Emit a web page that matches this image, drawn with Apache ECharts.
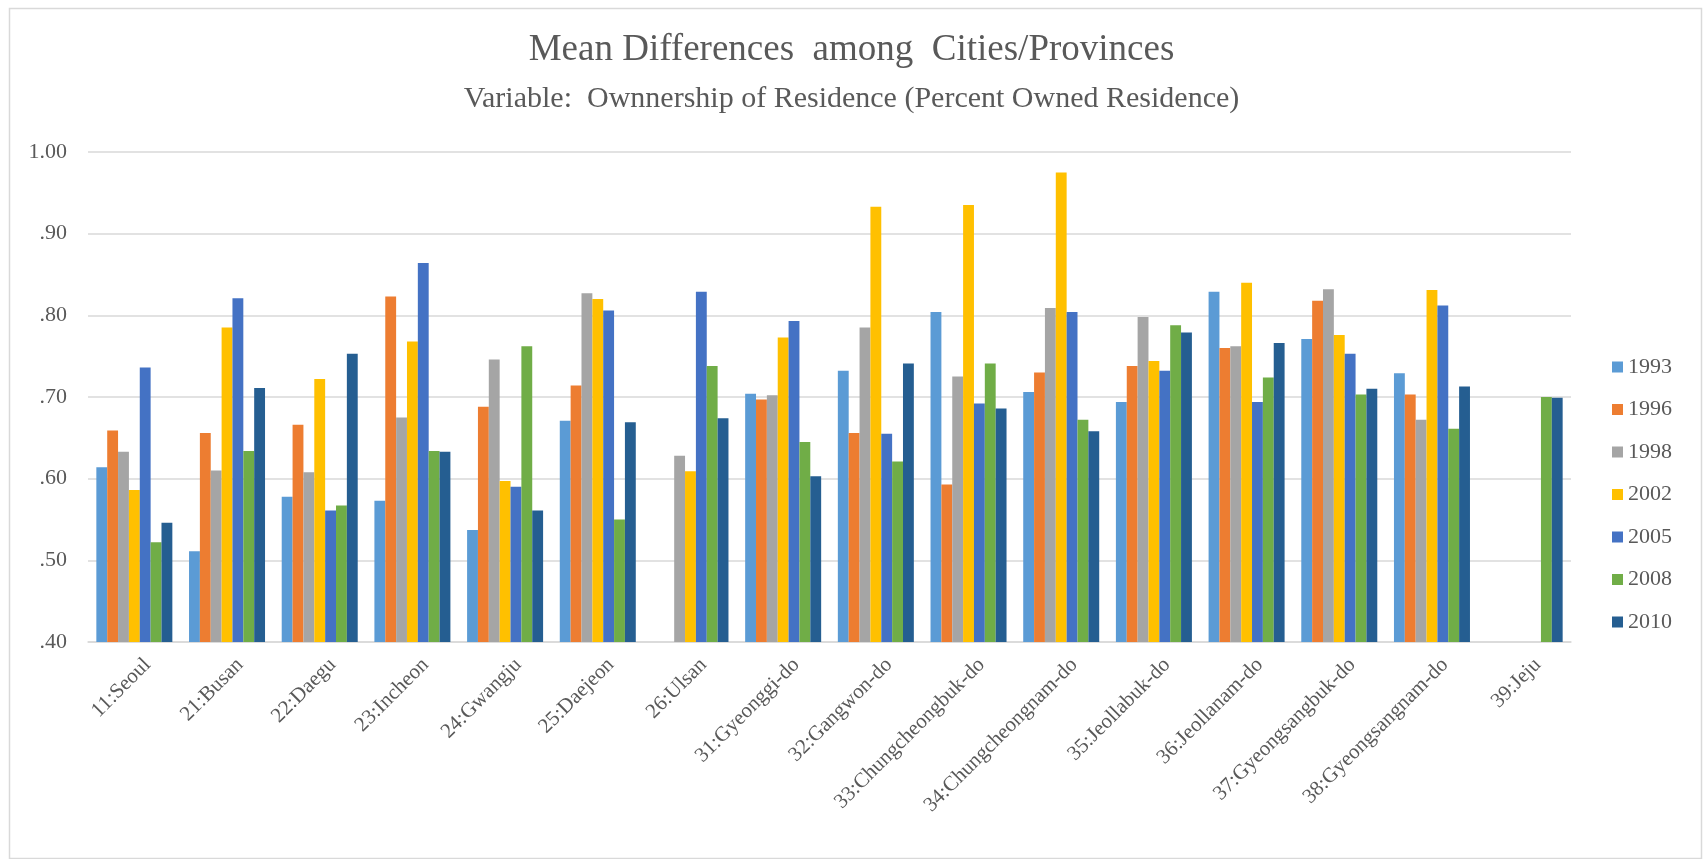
<!DOCTYPE html>
<html>
<head>
<meta charset="utf-8">
<script src="https://cdn.jsdelivr.net/npm/echarts@6/dist/echarts.min.js"></script>
<style>
html,body{margin:0;padding:0;background:#fff;}
#chart{width:1703px;height:859px;}
</style>
</head>
<body>
<div id="chart"></div>
<script>
const titleText = 'Mean Differences  among  Cities/Provinces';
const subtitleText = 'Variable:  Ownnership of Residence (Percent Owned Residence)';
const categories = ['11:Seoul','21:Busan','22:Daegu','23:Incheon','24:Gwangju','25:Daejeon','26:Ulsan','31:Gyeonggi-do','32:Gangwon-do','33:Chungcheongbuk-do','34:Chungcheongnam-do','35:Jeollabuk-do','36:Jeollanam-do','37:Gyeongsangbuk-do','38:Gyeongsangnam-do','39:Jeju'];
const seriesNames = ['1993','1996','1998','2002','2005','2008','2010'];
const yTickLabels = ['.40','.50','.60','.70','.80','.90','1.00'];

const v1993 = [0.614,0.511,0.578,0.573,0.537,0.671,null,0.704,0.732,0.804,0.706,0.694,0.829,0.771,0.729,null];
const v1996 = [0.659,0.656,0.666,0.823,0.688,0.714,null,0.697,0.656,0.593,0.730,0.738,0.760,0.818,0.703,null];
const v1998 = [0.633,0.610,0.608,0.675,0.746,0.827,0.628,0.702,0.785,0.725,0.809,0.798,0.762,0.832,0.672,null];
const v2002 = [0.586,0.785,0.722,0.768,0.597,0.820,0.609,0.773,0.933,0.935,0.975,0.744,0.840,0.776,0.831,null];
const v2005 = [0.736,0.821,0.561,0.864,0.590,0.806,0.829,0.793,0.655,0.692,0.804,0.732,0.694,0.753,0.812,null];
const v2008 = [0.522,0.634,0.567,0.634,0.762,0.550,0.738,0.645,0.621,0.741,0.672,0.788,0.724,0.703,0.661,0.700];
const v2010 = [0.546,0.711,0.753,0.633,0.561,0.669,0.674,0.603,0.741,0.686,0.658,0.779,0.766,0.710,0.713,0.699];

const seriesValues = [v1993,v1996,v1998,v2002,v2005,v2008,v2010];
const colors = ['#5B9BD5','#ED7D31','#A5A5A5','#FFC000','#4472C4','#70AD47','#255E91'];

const FONT = '"Liberation Serif","Times New Roman",serif';
const chart = echarts.init(document.getElementById('chart'));
chart.setOption({
  animation: false,
  backgroundColor: '#ffffff',
  color: colors,
  graphic: [{
    type: 'rect', left: 7, top: 6, z: -1,
    shape: {width: 1692, height: 850},
    style: {fill: 'none', stroke: '#d9d9d9', lineWidth: 1.5}
  }],
  title: [
    {text: titleText, left: 'center', top: 27,
     textStyle: {fontFamily: FONT, fontSize: 37, fontWeight: 'normal', color: '#595959'}},
    {text: subtitleText, left: 'center', top: 79,
     textStyle: {fontFamily: FONT, fontSize: 30, fontWeight: 'normal', color: '#595959'}}
  ],
  legend: {
    orient: 'vertical', left: 1612, top: 356, padding: 0,
    itemWidth: 11, itemHeight: 11, itemGap: 20.5,
    icon: 'rect',
    textStyle: {fontFamily: FONT, fontSize: 22, color: '#595959', lineHeight: 22},
    data: seriesNames
  },
  grid: {left: 88, right: 132, top: 152, bottom: 217, containLabel: false},
  xAxis: {
    type: 'category', data: categories,
    axisLine: {lineStyle: {color: '#d9d9d9', width: 1.5}},
    axisTick: {show: false},
    axisLabel: {rotate: 45, interval: 0, margin: 18, verticalAlign: 'top', padding: [0,-8,0,0],
      fontFamily: FONT, fontSize: 21, color: '#595959'}
  },
  yAxis: {
    type: 'value', min: 0.4, max: 1.0, interval: 0.1,
    axisLine: {show: false}, axisTick: {show: false},
    splitLine: {lineStyle: {color: '#d9d9d9', width: 1.5}},
    axisLabel: {
      margin: 21, fontFamily: FONT, fontSize: 22, color: '#595959',
      formatter: function (v) { return yTickLabels[Math.round((v - 0.4) / 0.1)]; }
    }
  },
  series: seriesNames.map(function (name, i) {
    return {
      name: name, type: 'bar', data: seriesValues[i],
      barGap: '0%', barCategoryGap: '18%',
      itemStyle: {color: colors[i]}
    };
  })
});
</script>
</body>
</html>
